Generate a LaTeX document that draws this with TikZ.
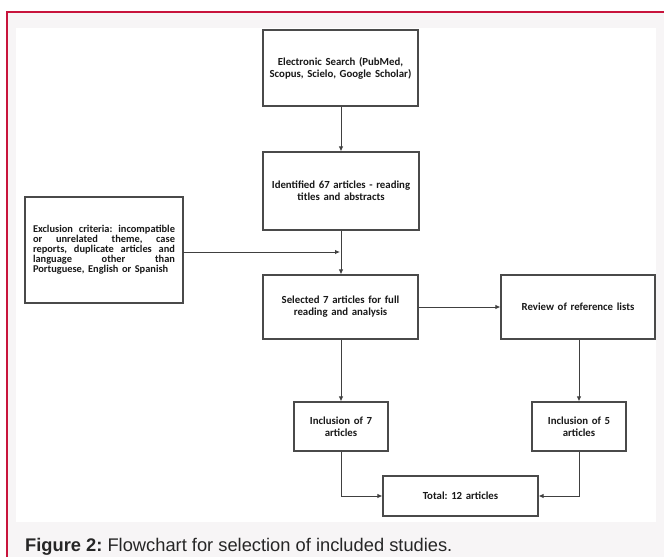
\documentclass[tikz,border=0pt]{standalone}
\usepackage{fontspec}
\setmainfont{Carlito}
\newfontfamily\capfont{Liberation Sans}
\usetikzlibrary{arrows.meta}
\frenchspacing
\definecolor{framered}{HTML}{C8143C}
\definecolor{panelgray}{HTML}{F7F5F6}
\definecolor{boxline}{HTML}{4A4A4A}
\newcommand{\jline}[1]{\leavevmode\hbox to 142pt{#1}}
\tikzset{
  fbox/.style={draw=boxline, line width=1.2pt, fill=white, inner sep=0pt, align=center,
    font=\fontsize{10.8}{12}\selectfont\bfseries, text=black!90},
  conn/.style={draw=black!75, line width=0.9pt, -{Latex[length=5pt,width=4.5pt]}},
}
\begin{document}
\begin{tikzpicture}[x=1pt,y=-1pt]
\useasboundingbox (0,0) rectangle (664,557);
\fill[white] (0,0) rectangle (664,557);
\fill[panelgray] (7,12) rectangle (664,557);
\fill[white] (16,28) rectangle (656,522);
\draw[framered, line width=1.5pt] (7,557) -- (7,12) -- (664,12);

\node[fbox, minimum width=155pt, minimum height=76pt, text width=150pt] (e1) at (340.5,68)
  {Electronic Search (PubMed,\\Scopus, Scielo, Google Scholar)};
\node[fbox, minimum width=156pt, minimum height=78pt, text width=150pt] (e2) at (341,191)
  {Identified 67 articles - reading\\titles and abstracts};
\node[fbox, minimum width=158pt, minimum height=106pt, text width=142pt, align=left,
  font=\fontsize{10.4}{9.9}\selectfont\bfseries] (ex) at (104,250)
  {\jline{Exclusion\hfill criteria:\hfill incompatible}\\
   \jline{or\hfill unrelated\hfill theme,\hfill case}\\
   \jline{reports,\hfill duplicate\hfill articles\hfill and}\\
   \jline{language\hfill other\hfill than}\\
   Portuguese, English or Spanish};
\node[fbox, minimum width=155pt, minimum height=64pt, text width=150pt] (e3) at (340.5,307)
  {Selected 7 articles for full\\reading and analysis};
\node[fbox, minimum width=154pt, minimum height=64pt, text width=150pt] (rv) at (578,307)
  {Review of reference lists};
\node[fbox, minimum width=94pt, minimum height=49pt, text width=90pt] (i7) at (341,426.5)
  {Inclusion of 7\\articles};
\node[fbox, minimum width=94pt, minimum height=49pt, text width=90pt] (i5) at (579,426.5)
  {Inclusion of 5\\articles};
\node[fbox, minimum width=155pt, minimum height=40pt, text width=150pt] (tot) at (460.5,496)
  {Total: 12 articles};

\coordinate (exend) at (340,252);
\coordinate (exstart) at (183,252);
\draw[conn] (e1.south -| 341,0) -- (e2.north -| 341,0);
\draw[conn] (e2.south -| 341,0) -- (e3.north -| 341,0);
\draw[conn] (exstart) -- (exend);
\draw[conn] (e3.east) -- (rv.west);
\draw[conn] (e3.south -| i7.north) -- (i7.north);
\draw[conn] (rv.south -| i5.north) -- (i5.north);
\draw[conn] (i7.south) |- (tot.west);
\draw[conn] (i5.south) |- (tot.east);

\node[anchor=base west, inner sep=0pt, font=\capfont\fontsize{18.3}{20}\selectfont, text=black!85] (cap) at (25,551)
  {\textbf{Figure 2:} Flowchart for selection of included studies.};
\end{tikzpicture}
\end{document}
